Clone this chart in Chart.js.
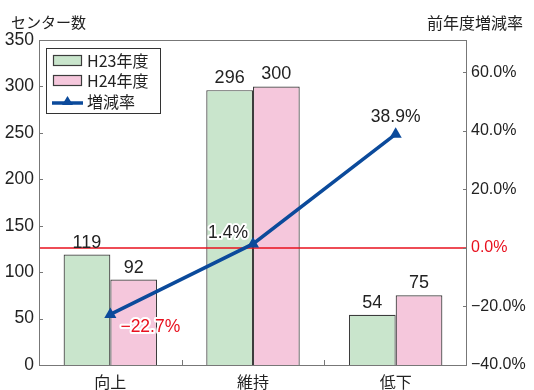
<!DOCTYPE html>
<html><head><meta charset="utf-8">
<script src="https://cdn.jsdelivr.net/npm/chart.js@4"></script>
<style>html,body{margin:0;padding:0;background:#fff}#w{width:534px;height:390px}</style>
</head><body><div id="w"><canvas id="c" width="534" height="390"></canvas></div>
<script>
const categories = ['向上', '維持', '低下'];
const h23 = [119, 296, 54];
const h24 = [92, 300, 75];
const rate = [-22.7, 1.4, 38.9];
const leftTicks = [0, 50, 100, 150, 200, 250, 300, 350];
const rightTicks = [-40, -20, 0, 20, 40, 60];
const seriesNames = ['H23年度', 'H24年度', '増減率'];

const FONT = '"Liberation Sans", "Noto Sans CJK JP", sans-serif';
const JFONT = '"Noto Sans CJK JP", "Liberation Sans", sans-serif';
const GREEN = '#c9e5cc', PINK = '#f5c7dc', BLUE = '#0b4a9b', EDGE = '#3c3c3c', AXIS = '#777777', RED = '#e8101e';
const fmtPct = v => (v < 0 ? '\u2212' : '') + Math.abs(v).toFixed(1) + '%';

const deco = {
  id: 'deco',
  beforeDatasetDraw(chart, args) {
    if (args.index !== 2) return;
    const ctx = chart.ctx, a = chart.chartArea, y = chart.scales.y1.getPixelForValue(0);
    ctx.save(); ctx.strokeStyle = RED; ctx.lineWidth = 1.5;
    ctx.beginPath(); ctx.moveTo(a.left, y); ctx.lineTo(a.right, y); ctx.stroke(); ctx.restore();
  },
  afterDatasetsDraw(chart) {
    const ctx = chart.ctx;
    ctx.save();
    ctx.font = '18px ' + FONT; ctx.textAlign = 'center'; ctx.textBaseline = 'alphabetic'; ctx.fillStyle = '#222';
    [0, 1].forEach(di => {
      chart.getDatasetMeta(di).data.forEach((el, i) => {
        ctx.fillText(String(chart.data.datasets[di].data[i]), el.x, el.y - 7);
      });
    });
    const offs = [[40, 13, RED], [-25, -11, '#222'], [0, -17, '#222']];
    ctx.font = '17.5px ' + FONT;
    ctx.textBaseline = 'middle'; ctx.lineJoin = 'round';
    chart.getDatasetMeta(2).data.forEach((el, i) => {
      const t = fmtPct(rate[i]);
      const x = el.x + offs[i][0], y = el.y + offs[i][1];
      ctx.strokeStyle = '#fff'; ctx.lineWidth = 4; ctx.strokeText(t, x, y);
      ctx.fillStyle = offs[i][2]; ctx.fillText(t, x, y);
    });
    ctx.restore();
  },
  afterDraw(chart) {
    const ctx = chart.ctx, a = chart.chartArea;
    ctx.save();
    ctx.strokeStyle = AXIS; ctx.lineWidth = 1;
    ctx.strokeRect(a.left + 0.5, a.top + 0.5, a.right - a.left - 1, a.bottom - a.top);
    ctx.beginPath();
    leftTicks.forEach(v => { const y = Math.round(chart.scales.y.getPixelForValue(v)) + 0.5; ctx.moveTo(a.left, y); ctx.lineTo(a.left + 4, y); });
    rightTicks.forEach(v => { const y = Math.round(chart.scales.y1.getPixelForValue(v)) + 0.5; ctx.moveTo(a.right - 4, y); ctx.lineTo(a.right, y); });
    const xs = chart.scales.x;
    for (let i = 1; i < categories.length; i++) {
      const x = Math.round((xs.getPixelForValue(i - 1) + xs.getPixelForValue(i)) / 2) + 0.5;
      ctx.moveTo(x, a.bottom); ctx.lineTo(x, a.bottom - 5);
    }
    ctx.stroke();
    // axis titles
    ctx.fillStyle = '#222'; ctx.textBaseline = 'middle';
    ctx.font = '15px ' + JFONT; ctx.textAlign = 'left'; ctx.fillText('センター数', 11, 22);
    ctx.font = '16px ' + JFONT; ctx.textAlign = 'right'; ctx.fillText('前年度増減率', 523, 23);
    // legend
    ctx.fillStyle = '#fff'; ctx.fillRect(46, 48, 114, 65);
    ctx.strokeStyle = '#333'; ctx.lineWidth = 1; ctx.strokeRect(46.5, 48.5, 114, 65);
    const sw = [[GREEN, 55], [PINK, 75]];
    sw.forEach(([c, y], i) => {
      ctx.fillStyle = c; ctx.fillRect(53.5, y + 0.5, 28, 10);
      ctx.strokeStyle = EDGE; ctx.lineWidth = 1.2; ctx.strokeRect(53.5, y + 0.5, 28, 10);
    });
    ctx.strokeStyle = BLUE; ctx.lineWidth = 3.5; ctx.beginPath(); ctx.moveTo(52, 103); ctx.lineTo(83, 103); ctx.stroke();
    ctx.fillStyle = BLUE; ctx.beginPath(); ctx.moveTo(67.5, 96); ctx.lineTo(73, 105); ctx.lineTo(62, 105); ctx.closePath(); ctx.fill();
    ctx.fillStyle = '#222'; ctx.font = '16px ' + JFONT; ctx.textAlign = 'left'; ctx.textBaseline = 'middle';
    ctx.fillText(seriesNames[0], 87, 61); ctx.fillText(seriesNames[1], 87, 81); ctx.fillText(seriesNames[2], 87, 102);
    ctx.restore();
  }
};

new Chart(document.getElementById('c'), {
  type: 'bar',
  data: {
    labels: categories,
    datasets: [
      { label: seriesNames[0], data: h23, backgroundColor: GREEN, borderColor: EDGE, borderWidth: 1.2, yAxisID: 'y', order: 1, barPercentage: 1, categoryPercentage: 0.655 },
      { label: seriesNames[1], data: h24, backgroundColor: PINK, borderColor: EDGE, borderWidth: 1.2, yAxisID: 'y', order: 1, barPercentage: 1, categoryPercentage: 0.655 },
      { type: 'line', label: seriesNames[2], data: rate, borderColor: BLUE, backgroundColor: BLUE, borderWidth: 3.5, yAxisID: 'y1', order: 0,
        pointStyle: 'triangle', pointRadius: 7, pointBorderWidth: 0, pointBackgroundColor: BLUE, tension: 0 }
    ]
  },
  options: {
    responsive: false, devicePixelRatio: 1, animation: false,
    layout: { padding: { top: 40, left: 0, right: 0, bottom: 0 } },
    plugins: { legend: { display: false }, tooltip: { enabled: false } },
    scales: {
      x: {
        grid: { display: false, drawTicks: false }, border: { display: false },
        ticks: { font: { size: 16, family: JFONT }, color: '#222', padding: 7 },
        afterFit: s => { s.height = 25; }
      },
      y: {
        position: 'left', min: 0, max: 350,
        afterBuildTicks: s => { s.ticks = leftTicks.map(v => ({ value: v })); },
        grid: { display: false, drawTicks: false }, border: { display: false },
        ticks: { font: { size: 17.5, family: FONT }, color: '#222', padding: 5 },
        afterFit: s => { s.width = 39; }
      },
      y1: {
        position: 'right', min: -40, max: 71.1,
        afterBuildTicks: s => { s.ticks = rightTicks.map(v => ({ value: v })); },
        grid: { display: false, drawTicks: false }, border: { display: false },
        ticks: { font: { size: 16, family: FONT }, padding: 4, callback: v => fmtPct(v),
          color: c => (c.tick && c.tick.value === 0) ? RED : '#222' },
        afterFit: s => { s.width = 67; }
      }
    }
  },
  plugins: [deco]
});
</script></body></html>
